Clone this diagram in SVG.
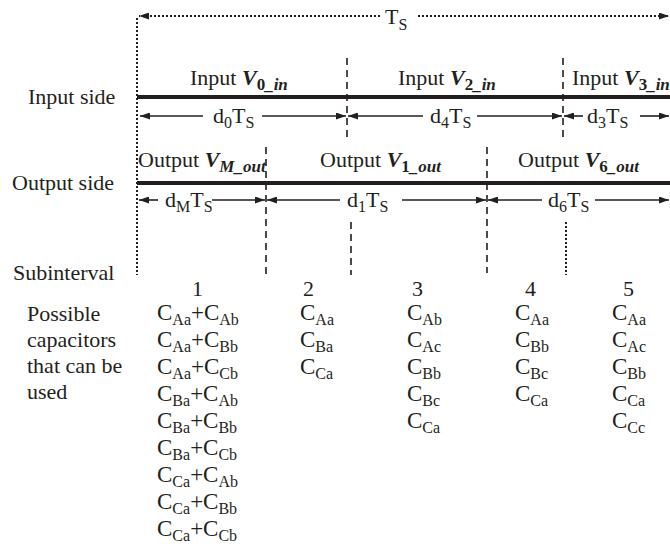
<svg xmlns="http://www.w3.org/2000/svg" width="670" height="546" viewBox="0 0 670 546">
<defs>
<style>
text{font-family:"Liberation Serif","Times New Roman",serif;font-size:22px;fill:#231f20}
.s{font-size:16px}
.vs{font-size:17px}
.c{font-size:23px}
.bi{font-weight:bold;font-style:italic}
.b{font-weight:bold;font-style:normal}
.thick{stroke:#231f20;stroke-width:4;fill:none}
.ar{stroke:#231f20;stroke-width:1.6;fill:none;marker-end:url(#ah)}
.dot{stroke:#231f20;stroke-width:2;stroke-dasharray:2 2;fill:none}
.dash{stroke:#231f20;stroke-width:1.6;stroke-dasharray:7 5;fill:none}
</style>
<marker id="ah" viewBox="0 0 10 7" refX="10" refY="3.5" markerWidth="11" markerHeight="7" markerUnits="userSpaceOnUse" orient="auto">
<path d="M0,0 L10,3.5 L0,7 z" fill="#231f20"/>
</marker>
</defs>

<g id="connectors">
<path class="dot" d="M137,18 V275"/>
<path class="dot" d="M380,16 H139" marker-end="url(#ah)"/>
<path class="dot" d="M418,16 H669" marker-end="url(#ah)"/>
<path class="thick" d="M137,97 H670"/>
<path class="thick" d="M137,183 H670"/>
<path class="dash" d="M347,58 V137"/>
<path class="dash" d="M563,58 V137"/>
<path class="dash" d="M266,147 V275"/>
<path class="dash" d="M487,147 V273"/>
<path class="dash" d="M351,222 V275"/>
<path class="dot" d="M566,222 V275"/>
<path class="ar" d="M203,116 H140"/>
<path class="ar" d="M262,116 H346"/>
<path class="ar" d="M423,116 H348"/>
<path class="ar" d="M477,116 H562"/>
<path class="ar" d="M583,116 H564"/>
<path class="ar" d="M640,116 H669"/>
<path class="ar" d="M158,200 H139"/>
<path class="ar" d="M212,200 H265"/>
<path class="ar" d="M340,200 H267"/>
<path class="ar" d="M402,200 H486"/>
<path class="ar" d="M542,200 H488"/>
<path class="ar" d="M595,200 H669"/>
</g>

<g id="period">
<text x="385" y="24">T<tspan class="s" dy="6">S</tspan></text>
</g>

<g id="input-row">
<text x="28" y="104">Input side</text>
<text x="190" y="85">Input <tspan class="bi">V</tspan><tspan class="vs b" dy="5">0</tspan><tspan class="vs bi">_in</tspan></text>
<text x="398" y="85">Input <tspan class="bi">V</tspan><tspan class="vs b" dy="5">2</tspan><tspan class="vs bi">_in</tspan></text>
<text x="572" y="85">Input <tspan class="bi">V</tspan><tspan class="vs b" dy="5">3</tspan><tspan class="vs bi">_in</tspan></text>
<text x="213" y="123">d<tspan class="s" dy="5">0</tspan><tspan dy="-5">T</tspan><tspan class="s" dy="5">S</tspan></text>
<text x="430" y="123">d<tspan class="s" dy="5">4</tspan><tspan dy="-5">T</tspan><tspan class="s" dy="5">S</tspan></text>
<text x="587" y="123">d<tspan class="s" dy="5">3</tspan><tspan dy="-5">T</tspan><tspan class="s" dy="5">S</tspan></text>
</g>

<g id="output-row">
<text x="12" y="190">Output side</text>
<text x="138" y="167">Output <tspan class="bi">V</tspan><tspan class="vs bi" dy="5">M_out</tspan></text>
<text x="320" y="167">Output <tspan class="bi">V</tspan><tspan class="vs b" dy="5">1</tspan><tspan class="vs bi">_out</tspan></text>
<text x="518" y="167">Output <tspan class="bi">V</tspan><tspan class="vs b" dy="5">6</tspan><tspan class="vs bi">_out</tspan></text>
<text x="165" y="207">d<tspan class="s" dy="5">M</tspan><tspan dy="-5">T</tspan><tspan class="s" dy="5">S</tspan></text>
<text x="347" y="207">d<tspan class="s" dy="5">1</tspan><tspan dy="-5">T</tspan><tspan class="s" dy="5">S</tspan></text>
<text x="548" y="207">d<tspan class="s" dy="5">6</tspan><tspan dy="-5">T</tspan><tspan class="s" dy="5">S</tspan></text>
</g>

<g id="subintervals">
<text x="13" y="280">Subinterval</text>
<text x="192" y="296">1</text>
<text x="303" y="296">2</text>
<text x="412" y="296">3</text>
<text x="525" y="296">4</text>
<text x="623" y="296">5</text>
</g>

<g id="capacitor-label">
<text x="27" y="321">Possible</text>
<text x="27" y="347">capacitors</text>
<text x="27" y="373">that can be</text>
<text x="27" y="399">used</text>
</g>

<g id="col1">
<text class="c" x="157" y="320">C<tspan class="s" dy="5">Aa</tspan><tspan dy="-5">+C</tspan><tspan class="s" dy="5">Ab</tspan></text>
<text class="c" x="157" y="347">C<tspan class="s" dy="5">Aa</tspan><tspan dy="-5">+C</tspan><tspan class="s" dy="5">Bb</tspan></text>
<text class="c" x="157" y="374">C<tspan class="s" dy="5">Aa</tspan><tspan dy="-5">+C</tspan><tspan class="s" dy="5">Cb</tspan></text>
<text class="c" x="157" y="401">C<tspan class="s" dy="5">Ba</tspan><tspan dy="-5">+C</tspan><tspan class="s" dy="5">Ab</tspan></text>
<text class="c" x="157" y="428">C<tspan class="s" dy="5">Ba</tspan><tspan dy="-5">+C</tspan><tspan class="s" dy="5">Bb</tspan></text>
<text class="c" x="157" y="455">C<tspan class="s" dy="5">Ba</tspan><tspan dy="-5">+C</tspan><tspan class="s" dy="5">Cb</tspan></text>
<text class="c" x="157" y="482">C<tspan class="s" dy="5">Ca</tspan><tspan dy="-5">+C</tspan><tspan class="s" dy="5">Ab</tspan></text>
<text class="c" x="157" y="509">C<tspan class="s" dy="5">Ca</tspan><tspan dy="-5">+C</tspan><tspan class="s" dy="5">Bb</tspan></text>
<text class="c" x="157" y="536">C<tspan class="s" dy="5">Ca</tspan><tspan dy="-5">+C</tspan><tspan class="s" dy="5">Cb</tspan></text>
</g>

<g id="col2">
<text class="c" x="300" y="320">C<tspan class="s" dy="5">Aa</tspan></text>
<text class="c" x="300" y="347">C<tspan class="s" dy="5">Ba</tspan></text>
<text class="c" x="300" y="374">C<tspan class="s" dy="5">Ca</tspan></text>
</g>

<g id="col3">
<text class="c" x="407" y="320">C<tspan class="s" dy="5">Ab</tspan></text>
<text class="c" x="407" y="347">C<tspan class="s" dy="5">Ac</tspan></text>
<text class="c" x="407" y="374">C<tspan class="s" dy="5">Bb</tspan></text>
<text class="c" x="407" y="401">C<tspan class="s" dy="5">Bc</tspan></text>
<text class="c" x="407" y="428">C<tspan class="s" dy="5">Ca</tspan></text>
</g>

<g id="col4">
<text class="c" x="515" y="320">C<tspan class="s" dy="5">Aa</tspan></text>
<text class="c" x="515" y="347">C<tspan class="s" dy="5">Bb</tspan></text>
<text class="c" x="515" y="374">C<tspan class="s" dy="5">Bc</tspan></text>
<text class="c" x="515" y="401">C<tspan class="s" dy="5">Ca</tspan></text>
</g>

<g id="col5">
<text class="c" x="612" y="320">C<tspan class="s" dy="5">Aa</tspan></text>
<text class="c" x="612" y="347">C<tspan class="s" dy="5">Ac</tspan></text>
<text class="c" x="612" y="374">C<tspan class="s" dy="5">Bb</tspan></text>
<text class="c" x="612" y="401">C<tspan class="s" dy="5">Ca</tspan></text>
<text class="c" x="612" y="428">C<tspan class="s" dy="5">Cc</tspan></text>
</g>
</svg>
